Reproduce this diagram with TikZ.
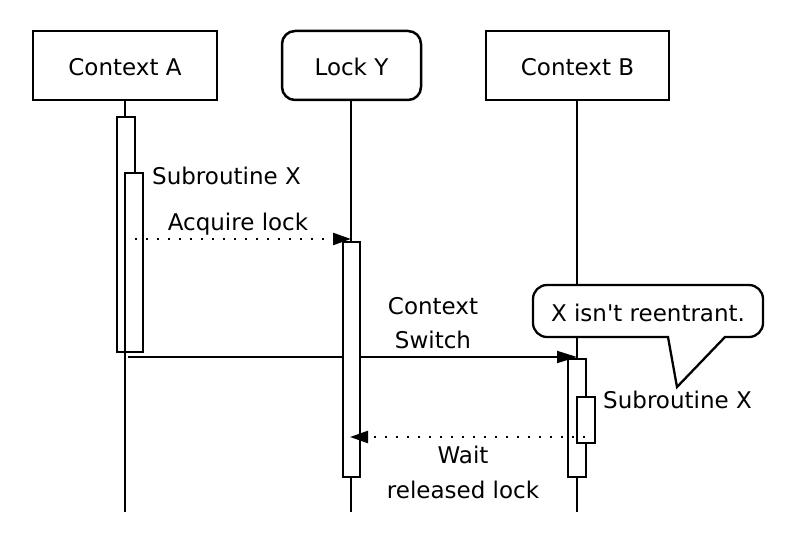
\documentclass[tikz,border=0pt]{standalone}
\usepackage{fontspec}
\newfontfamily\dv{DejaVu Sans}
\usetikzlibrary{arrows.meta}
\begin{document}
\begin{tikzpicture}[x=1bp,y=-1bp,
  every node/.style={font=\dv\fontsize{23bp}{27bp}\selectfont, inner sep=0pt},
  head/.style={draw, line width=2.5bp, minimum width=184bp, minimum height=69bp},
  lifeline/.style={line width=2.3bp},
  bar/.style={draw, line width=2.4bp, fill=white},
  msg/.style={line width=1.8bp, -{Triangle[length=20bp,width=12bp]}},
  dotmsg/.style={line width=2.3bp, dash pattern=on 2.3bp off 8.7bp, -{Triangle[length=18bp,width=12bp]}},
  lbl/.style={anchor=base},
  callout/.style={draw, line width=2.3bp, fill=white}]
\useasboundingbox (0,0) rectangle (800,543);
\fill[white] (0,0) rectangle (800,543);
% heads
\node[head] (ca) at (125,65.5) {};
\node[head, minimum width=139bp, rounded corners=13bp] (ly) at (351.5,65.5) {};
\node[head, minimum width=183bp] (cb) at (577.5,65.5) {};
\node[lbl] (cat) at (125,76) {Context A};
\node[lbl] (lyt) at (351.5,76) {Lock Y};
\node[lbl] (cbt) at (577.5,76) {Context B};
% lifeline ends
\coordinate (aend) at (125,512);
\coordinate (yend) at (351,512);
\coordinate (bend) at (577,512);
\draw[lifeline] (ca.south -| aend) -- (aend);
\draw[lifeline] (ly.south -| yend) -- (yend);
\draw[lifeline, line width=1.8bp] (cb.south -| bend) -- (bend);
% context switch (under lock bar)
\coordinate (csS) at (128,357);
\coordinate (csE) at (577,357);
\draw[msg] (csS) -- (csE);
% activation bars
\draw[bar] (117,117) rectangle (135,352);
\draw[bar] (125,173) rectangle (143,352);
\draw[bar] (343,242) rectangle (360,477);
\draw[bar] (568,359) rectangle (586,477);
\draw[bar] (577,397) rectangle (595,443);
% dotted messages
\coordinate (acqS) at (135,239);
\coordinate (acqE) at (351,239);
\draw[dotmsg] (acqS) -- (acqE);
\coordinate (wS) at (585,437);
\coordinate (wE) at (350,437);
\draw[dotmsg] (wS) -- (wE);
% labels
\node[lbl, anchor=base west] (subA) at (152,185) {Subroutine X};
\node[lbl] (acq) at (238,231) {Acquire lock};
\node[lbl] (cs1) at (433,315) {Context};
\node[lbl] (cs2) at (433,348) {Switch};
\node[lbl] (w1) at (463,463) {Wait};
\node[lbl] (w2) at (463,498) {released lock};
\node[lbl, anchor=base west] (subB) at (603,408) {Subroutine X};
% callout
\draw[callout] (547,285) -- (749,285) arc (-90:0:14) -- (763,323) arc (0:90:14)
  -- (725,337) -- (677,387) -- (668,337) -- (547,337) arc (90:180:14)
  -- (533,299) arc (180:270:14) -- cycle;
\node[lbl] (note) at (648,321) {X isn\textquotesingle t reentrant.};
\end{tikzpicture}
\end{document}
